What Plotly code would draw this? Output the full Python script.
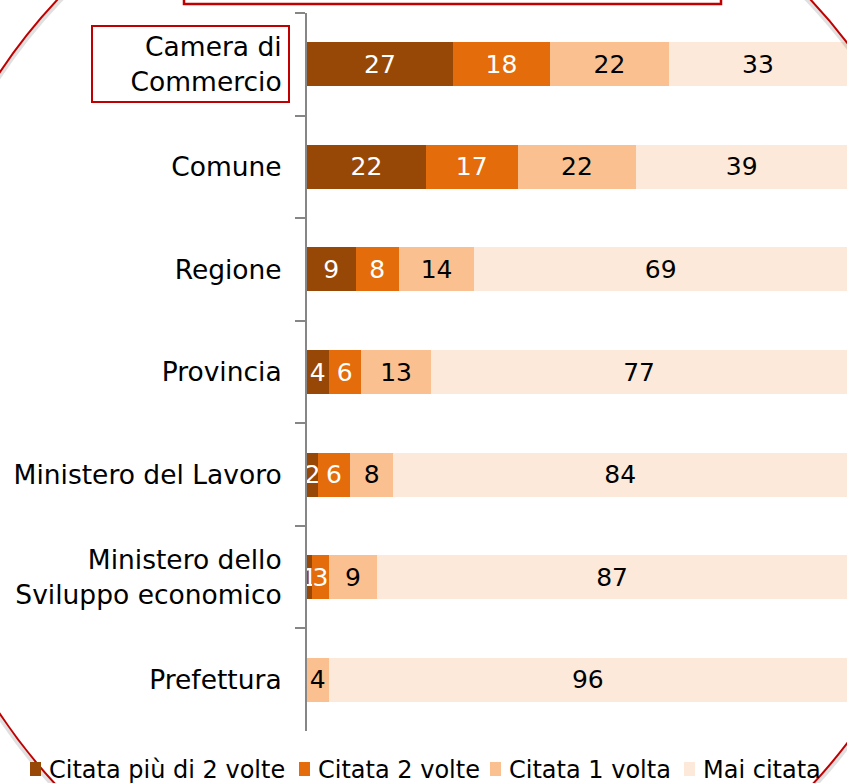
import plotly.graph_objects as go

categories = ["Camera di<br>Commercio", "Comune", "Regione", "Provincia",
              "Ministero del Lavoro", "Ministero dello<br>Sviluppo economico", "Prefettura"]
series_names = ["Citata più di 2 volte", "Citata 2 volte", "Citata 1 volta", "Mai citata"]
piu_di_2 = [27, 22, 9, 4, 2, 1, 0]
due_volte = [18, 17, 8, 6, 6, 3, 0]
una_volta = [22, 22, 14, 13, 8, 9, 4]
mai_citata = [33, 39, 69, 77, 84, 87, 96]

colors = ["#974806", "#E46C0A", "#FAC090", "#FDE9D9"]
text_colors = ["white", "white", "black", "black"]
FONT = "DejaVu Sans, Verdana, sans-serif"
FS = 25

W, H = 847, 783
ML, MR, MT, MB = 307, 0, 13, 52
PW, PH = W - ML - MR, H - MT - MB


def px(x):
    return (x - ML) / PW


def py(y):
    return 1 - (y - MT) / PH


fig = go.Figure()
for name, vals, col, tcol in zip(series_names, [piu_di_2, due_volte, una_volta, mai_citata], colors, text_colors):
    fig.add_trace(go.Bar(
        y=categories, x=vals, name=name, orientation="h",
        marker=dict(color=col, line=dict(width=0)),
        text=[str(v) if v else "" for v in vals],
        textposition="inside", insidetextanchor="middle",
        constraintext="none", textangle=0,
        insidetextfont=dict(color=tcol, size=FS, family=FONT),
        showlegend=False, hoverinfo="x+name",
    ))

shapes = []
# ellipse shadow and red ellipse frame
ex0, ex1, ey0, ey1 = -96, 964, -166, 952
shapes.append(dict(type="circle", xref="paper", yref="paper",
                   x0=px(ex0), x1=px(ex1), y0=py(ey1 + 4), y1=py(ey0 + 4),
                   line=dict(color="rgba(0,0,0,0.12)", width=4), layer="above"))
shapes.append(dict(type="circle", xref="paper", yref="paper",
                   x0=px(ex0), x1=px(ex1), y0=py(ey1), y1=py(ey0),
                   line=dict(color="#C00000", width=2), layer="above"))
# top red box (cropped)
shapes.append(dict(type="rect", xref="paper", yref="paper",
                   x0=px(184), x1=px(721), y0=py(4), y1=py(-30),
                   line=dict(color="#C00000", width=2.5)))
# red box around first label
shapes.append(dict(type="rect", xref="paper", yref="paper",
                   x0=px(92), x1=px(289), y0=py(102), y1=py(26),
                   line=dict(color="#C00000", width=2)))

# manual legend
legend_marker_x = [30, 299, 490, 684]
annotations = []
for name, col, mx in zip(series_names, colors, legend_marker_x):
    shapes.append(dict(type="rect", xref="paper", yref="paper",
                       x0=px(mx), x1=px(mx + 11), y0=py(776), y1=py(762),
                       fillcolor=col, line=dict(width=0)))
    annotations.append(dict(xref="paper", yref="paper", x=px(mx + 17), y=py(770),
                            text=name, showarrow=False, xanchor="left", yanchor="middle",
                            font=dict(size=FS - 1, family=FONT, color="black")))

fig.update_layout(
    width=W, height=H, barmode="stack", bargap=0.571,
    margin=dict(l=ML, r=MR, t=MT, b=MB, pad=0),
    paper_bgcolor="white", plot_bgcolor="white",
    font=dict(family=FONT, size=FS, color="black"),
    xaxis=dict(range=[0, 100], visible=False, fixedrange=True),
    yaxis=dict(type="category", categoryorder="array", categoryarray=categories,
               autorange="reversed", showline=True, linecolor="#868686", linewidth=2,
               ticks="outside", tickson="boundaries", ticklen=10, tickcolor="#868686",
               tickwidth=2, showgrid=False, ticklabelstandoff=18,
               tickfont=dict(size=26.5, family=FONT, color="black")),
    shapes=shapes, annotations=annotations,
)

fig.write_html("out.html", config={"displayModeBar": False},
               post_script="document.body.style.margin='0';document.body.style.overflow='hidden';")
